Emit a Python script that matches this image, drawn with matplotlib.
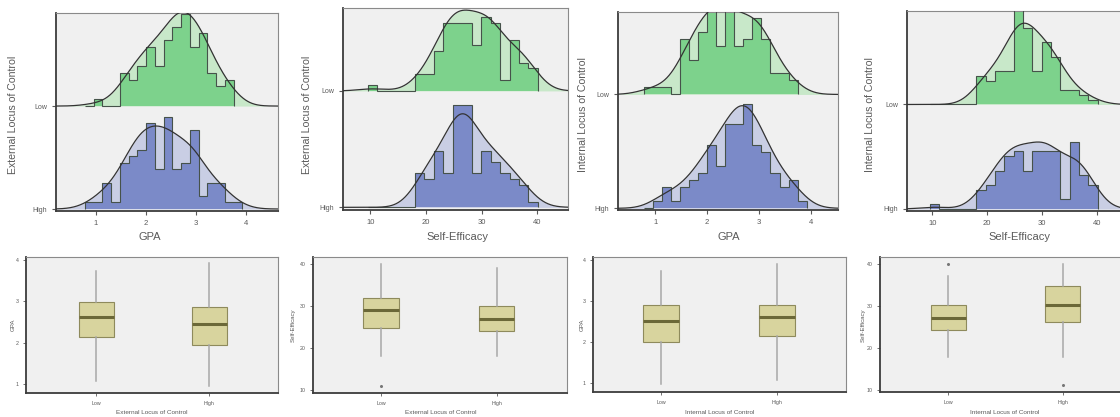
import numpy as np
import matplotlib.pyplot as plt

plt.rcParams['font.family'] = ['Liberation Sans', 'DejaVu Sans']

# histogram binning used in the source (left edge of first bin, bin width)
gpa_bins = (0.775, 0.175)
se_bins = (9.5, 1.7)

# bin counts, Low group (green) and High group (blue)
ext_gpa_low = [0, 1, 0, 0, 5, 4, 6, 9, 6, 10, 12, 14, 9, 11, 5, 3, 4]
ext_gpa_high = [1, 1, 4, 1, 7, 8, 9, 13, 6, 14, 6, 7, 12, 2, 4, 4, 1, 1]
ext_se_low = [1, 0, 0, 0, 0, 3, 3, 7, 12, 12, 12, 8, 13, 12, 2, 9, 5, 4]
ext_se_high = [0, 0, 0, 0, 0, 6, 5, 10, 6, 18, 18, 6, 10, 8, 6, 5, 4, 1]
int_gpa_low = [1, 1, 1, 0, 8, 5, 9, 13, 7, 13, 7, 8, 11, 8, 3, 3, 2]
int_gpa_high = [0, 1, 3, 1, 3, 4, 5, 9, 6, 12, 12, 15, 9, 8, 5, 3, 4, 1]
int_se_low = [0, 0, 0, 0, 0, 6, 5, 7, 7, 20, 16, 7, 13, 10, 3, 3, 2, 1]
int_se_high = [1, 0, 0, 0, 0, 4, 5, 8, 11, 12, 8, 12, 12, 12, 2, 14, 7, 5]

groups = ['Low', 'High']

# boxplot summaries: whisker low, q1, median, q3, whisker high, outliers
ext_gpa_box = [(1.08, 2.13, 2.61, 2.97, 3.74, []), (0.95, 1.94, 2.44, 2.86, 3.92, [])]
ext_se_box = [(18.1, 24.85, 29.0, 31.9, 40.0, [11]), (18.1, 24.05, 26.9, 29.9, 39.05, [])]
int_gpa_box = [(0.97, 2.0, 2.51, 2.90, 3.74, []), (1.08, 2.14, 2.61, 2.90, 3.92, [])]
int_se_box = [(17.9, 24.3, 27.1, 30.1, 37.0, [40]), (17.9, 26.1, 30.1, 34.8, 40.0, [11])]

BG = '#f0f0f0'
GREEN, GREEN_L = '#7dd28c', '#c8e8c9'
BLUE, BLUE_L = '#7b8ac8', '#c9cee4'
TXT = '#5a5a5a'
CURVE_SCALE = 1.3

W, H = 1120, 417
fig = plt.figure(figsize=(W / 100, H / 100), dpi=100)


def rect(l, t, r, b):
    return [l / W, 1 - b / H, (r - l) / W, (b - t) / H]


def style_spines(ax):
    for s in ['top', 'right']:
        ax.spines[s].set_color('#8a8a8a')
        ax.spines[s].set_linewidth(0.8)
    for s in ['left', 'bottom']:
        ax.spines[s].set_color('#3c3c3c')
        ax.spines[s].set_linewidth(1.3)


def hist_panel(ax, low, high, bins, band, bw, xlim, ylim, xticks):
    start, width = bins
    ax.set_facecolor(BG)
    xs = np.linspace(xlim[0], xlim[1], 500)
    for counts, base, dark, light in [(low, band, GREEN, GREEN_L), (high, 0, BLUE, BLUE_L)]:
        counts = np.asarray(counts, float)
        edges = start + width * np.arange(len(counts) + 1)
        centers = edges[:-1] + width / 2
        kern = np.exp(-0.5 * ((xs[None, :] - centers[:, None]) / bw) ** 2) / (bw * np.sqrt(2 * np.pi))
        dens = (counts[:, None] * kern).sum(0) * width * CURVE_SCALE
        ax.fill_between(xs, base, base + dens, color=light, lw=0, zorder=1)
        ax.stairs(base + counts, edges, baseline=base, fill=True, color=dark, zorder=2)
        ax.stairs(base + counts, edges, baseline=base, fill=False, color='#46524a', lw=0.8, zorder=3)
        ax.plot(xs, base + dens, color='#333333', lw=0.9, zorder=4)
    ax.set_xlim(*xlim)
    ax.set_ylim(*ylim)
    ax.set_xticks(xticks)
    ax.set_yticks([band, 0])
    ax.set_yticklabels(groups)
    ax.tick_params(labelsize=5.5, colors=TXT, length=3, width=0.8)
    ax.tick_params(axis='y', labelsize=5)
    style_spines(ax)


def box_panel(ax, boxes, xlim, ylim, yticks):
    ax.set_facecolor(BG)
    stats = []
    for g, (lo, q1, med, q3, hi, fl) in zip(groups, boxes):
        stats.append(dict(label=g, whislo=lo, q1=q1, med=med, q3=q3, whishi=hi, fliers=fl))
    ax.bxp(stats, positions=[0, 1], widths=0.31, patch_artist=True, showcaps=False,
           boxprops=dict(facecolor='#d8d49e', edgecolor='#8e8a5c', linewidth=0.8),
           medianprops=dict(color='#6b6838', linewidth=2.2),
           whiskerprops=dict(color='#a8a8a8', linewidth=1.1),
           flierprops=dict(marker='o', markersize=1.2, markerfacecolor='#777777',
                           markeredgecolor='#777777'))
    ax.set_xlim(*xlim)
    ax.set_ylim(*ylim)
    ax.set_yticks(yticks)
    ax.tick_params(labelsize=3.8, colors=TXT, length=2, width=0.6)
    style_spines(ax)


tops = [
    (rect(56, 13, 278, 211), ext_gpa_low, ext_gpa_high, gpa_bins, 15.6, 0.27,
     (0.2, 4.64), (-0.3, 29.7), [1, 2, 3, 4]),
    (rect(343, 8, 568, 210), ext_se_low, ext_se_high, se_bins, 20.5, 2.5,
     (5.06, 45.5), (-0.47, 35.1), [10, 20, 30, 40]),
    (rect(618, 12, 838, 210), int_gpa_low, int_gpa_high, gpa_bins, 16.3, 0.27,
     (0.28, 4.53), (-0.24, 28.1), [1, 2, 3, 4]),
    (rect(907, 11, 1136, 211), int_se_low, int_se_high, se_bins, 21.8, 2.5,
     (5.4, 47.1), (-0.42, 41.3), [10, 20, 30, 40]),
]
for r, low, high, bins, band, bw, xl, yl, xt in tops:
    hist_panel(fig.add_axes(r), low, high, bins, band, bw, xl, yl, xt)

bottoms = [
    (rect(26, 257, 278, 393), ext_gpa_box, (-0.62, 1.61), (0.78, 4.07), [1, 2, 3, 4]),
    (rect(313, 257, 567, 393), ext_se_box, (-0.59, 1.61), (9.37, 41.6), [10, 20, 30, 40]),
    (rect(593, 257, 846, 392), int_gpa_box, (-0.59, 1.60), (0.78, 4.08), [1, 2, 3, 4]),
    (rect(880, 257, 1138, 392), int_se_box, (-0.60, 1.66), (9.45, 41.6), [10, 20, 30, 40]),
]
for r, boxes, xl, yl, yt in bottoms:
    box_panel(fig.add_axes(r), boxes, xl, yl, yt)

# axis titles
top_x = [(150, 'GPA'), (457, 'Self-Efficacy'), (729, 'GPA'), (1019, 'Self-Efficacy')]
top_y = [(13, 'External Locus of Control'), (307, 'External Locus of Control'),
         (583, 'Internal Locus of Control'), (870, 'Internal Locus of Control')]
bot_x = [(152, 'External Locus of Control'), (441, 'External Locus of Control'),
         (720, 'Internal Locus of Control'), (1005, 'Internal Locus of Control')]
bot_y = [(13, 'GPA'), (293, 'Self-Efficacy'), (582, 'GPA'), (863, 'Self-Efficacy')]

for x, s in top_x:
    fig.text(x / W, 1 - 237 / H, s, ha='center', va='center', fontsize=8, color=TXT)
for x, s in top_y:
    fig.text(x / W, 1 - 115 / H, s, ha='center', va='center', rotation=90, fontsize=7.6, color=TXT)
for x, s in bot_x:
    fig.text(x / W, 1 - 413 / H, s, ha='center', va='center', fontsize=4.6, color=TXT)
for x, s in bot_y:
    fig.text(x / W, 1 - 325 / H, s, ha='center', va='center', rotation=90, fontsize=4.4, color=TXT)

fig.savefig('out.png', dpi=100, facecolor='white')
